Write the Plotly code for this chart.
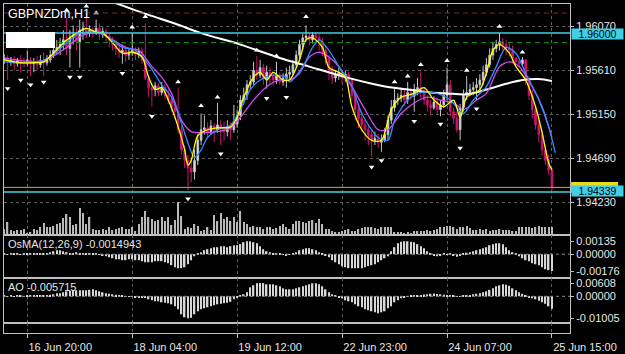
import plotly.graph_objects as go

# ---------------- data ----------------
bar_idx = list(range(168))
time_tick_idx = [7, 39, 71, 103, 135, 167]
time_tick_text = ["16 Jun 20:00", "18 Jun 04:00", "19 Jun 12:00",
                  "22 Jun 23:00", "24 Jun 07:00", "25 Jun 15:00"]
price_ticks = [1.94230, 1.94690, 1.95150, 1.95610, 1.96070]
osma_ticks = [0.00135, 0.0, -0.00176]
ao_ticks = [0.00608, 0.0, -0.01005]

first_open = 1.9572
closes = [1.9574,1.9570,1.9572,1.9568,1.9572,1.9570,
 1.9569,1.9572,1.9568,1.9570,1.9567,1.9571,1.9569,
 1.9572,1.9577,1.9582,1.9585,
 1.9588,1.9593,1.9584,1.9595,
 1.9598,1.9591,1.9603,1.9605,1.9600,
 1.9603,1.9601,1.9605,1.9599,1.9602,
 1.9597,1.9593,1.9588,1.9584,1.9580,1.9582,
 1.9577,1.9580,1.9582,1.9578,1.9581,
 1.9572,1.9553,1.9543,1.9541,
 1.9545,1.9538,1.9543,1.9535,1.9530,
 1.9522,1.9518,1.9499,1.9478,
 1.9467,1.9459,1.9455,1.9467,
 1.9488,1.9499,1.9501,1.9497,
 1.9503,1.9499,1.9504,1.9501,1.9497,1.9501,1.9499,1.9505,
 1.9514,1.9530,1.9535,1.9546,1.9549,
 1.9561,1.9556,1.9564,1.9553,1.9559,
 1.9555,1.9551,1.9556,1.9549,1.9553,1.9557,
 1.9559,1.9567,1.9577,1.9588,
 1.9595,1.9597,1.9593,1.9598,1.9595,1.9591,
 1.9582,1.9574,1.9561,1.9553,
 1.9556,1.9559,1.9553,1.9557,1.9551,
 1.9535,1.9520,1.9511,1.9504,1.9499,
 1.9494,1.9488,1.9490,1.9486,1.9488,1.9494,
 1.9509,1.9522,1.9530,1.9532,
 1.9535,1.9530,1.9538,1.9534,1.9541,1.9543,
 1.9538,1.9530,1.9525,1.9522,1.9528,1.9520,
 1.9525,1.9535,1.9546,
 1.9518,1.9511,1.9499,1.9522,1.9535,
 1.9538,1.9541,1.9543,1.9546,
 1.9551,1.9559,1.9567,1.9577,1.9584,1.9588,
 1.9591,1.9588,1.9584,1.9582,
 1.9574,1.9570,1.9568,1.9572,
 1.9551,1.9535,1.9520,1.9504,
 1.9494,1.9478,1.9467,1.9457,1.9439]

highs = [1.9578,1.9577,1.9575,1.9576,1.9574,1.9577,1.9574,1.9582,1.9575,1.9574,
 1.9576,1.9577,1.9580,1.9577,1.9582,1.9588,1.9593,1.9595,1.9603,1.9616,
 1.9603,1.9608,1.9605,1.9614,1.9612,1.9620,1.9608,1.9607,1.9614,1.9610,
 1.9606,1.9605,1.9600,1.9596,1.9593,1.9589,1.9588,1.9587,1.9584,1.9600,
 1.9585,1.9585,1.9585,1.9610,1.9556,1.9547,1.9549,1.9548,1.9549,1.9547,
 1.9541,1.9534,1.9528,1.9543,1.9503,1.9483,1.9473,1.9467,1.9478,1.9494,
 1.9516,1.9514,1.9507,1.9509,1.9506,1.9527,1.9509,1.9507,1.9509,1.9507,
 1.9525,1.9520,1.9535,1.9543,1.9551,1.9556,1.9570,1.9576,1.9572,1.9568,
 1.9566,1.9564,1.9560,1.9570,1.9559,1.9558,1.9564,1.9566,1.9572,1.9582,
 1.9593,1.9599,1.9608,1.9601,1.9601,1.9601,1.9599,1.9595,1.9587,1.9577,
 1.9566,1.9561,1.9564,1.9561,1.9561,1.9559,1.9553,1.9538,1.9525,1.9518,
 1.9509,1.9504,1.9499,1.9497,1.9495,1.9494,1.9501,1.9514,1.9530,1.9543,
 1.9537,1.9543,1.9541,1.9549,1.9543,1.9547,1.9553,1.9560,1.9543,1.9535,
 1.9530,1.9534,1.9532,1.9530,1.9541,1.9564,1.9551,1.9522,1.9518,1.9526,
 1.9541,1.9555,1.9547,1.9549,1.9553,1.9557,1.9566,1.9574,1.9584,1.9591,
 1.9593,1.9600,1.9595,1.9593,1.9591,1.9587,1.9574,1.9572,1.9575,1.9573,
 1.9555,1.9541,1.9524,1.9509,1.9499,1.9482,1.9473,1.9459]

lows = [1.9568,1.9551,1.9566,1.9561,1.9565,1.9559,1.9564,1.9566,1.9555,1.9559,
 1.9561,1.9564,1.9555,1.9566,1.9569,1.9574,1.9578,1.9577,1.9582,1.9577,
 1.9564,1.9588,1.9582,1.9564,1.9593,1.9595,1.9596,1.9595,1.9598,1.9593,
 1.9595,1.9591,1.9585,1.9582,1.9577,1.9574,1.9568,1.9570,1.9572,1.9576,
 1.9572,1.9574,1.9568,1.9551,1.9533,1.9523,1.9534,1.9534,1.9535,1.9531,
 1.9526,1.9518,1.9511,1.9495,1.9473,1.9459,1.9436,1.9444,1.9447,1.9462,
 1.9483,1.9494,1.9490,1.9494,1.9486,1.9496,1.9483,1.9488,1.9492,1.9488,
 1.9496,1.9501,1.9509,1.9525,1.9530,1.9541,1.9546,1.9551,1.9553,1.9546,
 1.9542,1.9547,1.9545,1.9547,1.9546,1.9545,1.9543,1.9551,1.9556,1.9564,
 1.9572,1.9582,1.9591,1.9587,1.9589,1.9588,1.9582,1.9576,1.9567,1.9551,
 1.9547,1.9549,1.9551,1.9547,1.9549,1.9543,1.9530,1.9509,1.9501,1.9497,
 1.9488,1.9483,1.9471,1.9483,1.9480,1.9476,1.9486,1.9488,1.9505,1.9518,
 1.9525,1.9528,1.9524,1.9526,1.9530,1.9518,1.9535,1.9532,1.9525,1.9518,
 1.9515,1.9520,1.9515,1.9513,1.9522,1.9530,1.9513,1.9505,1.9496,1.9488,
 1.9518,1.9530,1.9534,1.9535,1.9530,1.9541,1.9546,1.9555,1.9564,1.9572,
 1.9580,1.9582,1.9582,1.9577,1.9576,1.9570,1.9566,1.9564,1.9566,1.9546,
 1.9530,1.9511,1.9499,1.9486,1.9472,1.9462,1.9452,1.9436]

opens = [first_open] + closes[:-1]

volumes = [600,
 1300,500,400,500,500,600,200,300,600,500,
 800,1200,800,800,900,1100,1200,1700,2100,1800,
 1000,1100,2700,2200,1100,1800,600,500,500,600,
 500,800,500,600,700,800,600,600,800,400,
 1100,1800,2400,1800,1600,1400,1500,1800,1400,1800,
 1000,1500,3300,1900,600,800,700,1100,900,400,
 500,800,500,2000,1400,2200,1600,1800,1400,1800,
 1300,2400,1300,1100,800,900,800,800,600,800,
 800,600,700,900,1100,800,600,1100,1400,1400,
 1300,1200,1400,1500,1200,1600,1100,600,600,400,
 300,300,400,500,600,400,400,600,700,800,
 800,800,700,600,800,800,800,800,300,300,
 300,200,300,200,400,400,400,400,500,400,
 500,600,800,800,900,900,800,600,800,800,
 900,700,500,500,600,500,600,400,500,500,
 600,500,500,500,400,400,800,800,800,800,
 700,800,900,800,800,800,800]

osma = [0.00003,-0.00002,0.00003,0.00005,0.00003,-0.00003,0.00003,0.00005,0.00003,0.00003,0.00005,0.00008,0.00008,
 0.00010,0.00021,0.00031,0.00042,0.00042,
 0.00031,0.00021,
 0.00010,0.00010,0.00021,0.00010,0.00010,0.00010,0.00010,0.00010,0.00005,
 -0.00005,-0.00010,-0.00021,-0.00031,-0.00042,-0.00052,-0.00052,-0.00063,-0.00063,-0.00052,
 -0.00052,-0.00063,-0.00063,-0.00073,-0.00084,-0.00084,-0.00084,-0.00073,-0.00073,-0.00073,
 -0.00084,-0.00094,-0.00115,-0.00136,-0.00146,-0.00146,-0.00136,-0.00105,-0.00063,-0.00021,
 0.00010,0.00021,0.00042,0.00052,0.00063,0.00073,0.00073,
 0.00084,0.00084,0.00073,0.00084,0.00094,0.00094,
 0.00105,0.00125,0.00135,0.00135,0.00125,0.00115,0.00084,
 0.00052,0.00031,0.00021,0.00010,0.00010,
 0.00005,-0.00005,-0.00010,-0.00005,0.00005,
 0.00021,0.00042,0.00052,0.00063,0.00063,0.00052,0.00042,0.00021,
 0.00005,-0.00010,
 -0.00031,-0.00063,-0.00084,-0.00105,-0.00125,-0.00136,-0.00146,-0.00146,-0.00146,-0.00146,
 -0.00146,-0.00136,-0.00125,-0.00115,-0.00105,-0.00084,-0.00063,-0.00042,-0.00021,
 0.00031,0.00073,0.00115,0.00130,0.00135,0.00135,0.00130,0.00125,0.00105,0.00084,0.00063,0.00031,
 0.00010,-0.00010,-0.00021,-0.00010,0.00005,-0.00005,0.00005,-0.00016,-0.00026,-0.00010,0.00010,0.00016,
 0.00021,0.00031,0.00042,0.00052,0.00063,0.00073,0.00094,0.00105,0.00115,0.00115,0.00105,0.00073,0.00042,0.00021,0.00005,
 -0.00021,-0.00042,-0.00063,-0.00073,-0.00094,-0.00105,-0.00115,-0.00136,-0.00157,-0.00167,-0.00176]

ao = [0.00023,0.00014,0.00023,0.00014,0.00023,0.00023,0.00014,0.00023,0.00023,0.00023,0.00037,0.00037,0.00046,0.00046,
 0.00069,0.00092,0.00138,0.00138,0.00184,0.0023,0.00253,0.00276,0.00276,0.00276,0.00276,0.00276,
 0.00299,0.00322,0.00276,0.0023,0.00184,0.00138,0.00115,0.00092,0.00069,0.00046,0.00023,0.00014,
 -0.00023,-0.00023,-0.00037,-0.00046,-0.00046,
 -0.00069,-0.00138,-0.00184,-0.0023,-0.0023,-0.00276,-0.00299,-0.00322,-0.00368,-0.0046,
 -0.00598,-0.00828,-0.00966,-0.01005,-0.00990,-0.00828,-0.0069,-0.00598,-0.00552,-0.00506,
 -0.0046,-0.00414,-0.00368,-0.00345,-0.00322,-0.00299,-0.00253,-0.00138,-0.00046,
 0.00046,0.00092,0.00184,0.00414,0.00506,0.00598,0.00608,0.00608,0.00552,0.00552,
 0.00552,0.00506,0.0046,0.00368,0.00322,0.00322,0.00322,0.00368,0.00414,0.0046,
 0.00506,0.00552,0.00598,0.00598,0.00552,0.0046,0.00322,0.00184,0.00092,0.00046,
 -0.00046,-0.00092,-0.00184,-0.0023,-0.00276,-0.00368,-0.0046,-0.00506,-0.00598,-0.00644,
 -0.0069,-0.00736,-0.00782,-0.00736,-0.0069,-0.00552,-0.0046,-0.00276,-0.00184,-0.00092,
 -0.00046,-0.00023,
 0.00023,0.00032,0.00046,0.0006,0.00078,0.00092,0.00115,0.00124,0.00106,0.00092,
 0.00069,0.0006,0.00046,0.00032,0.00014,0.00009,0.00023,0.00032,0.0006,0.00092,
 0.00115,0.00138,0.00184,0.0023,0.00299,0.00368,0.0046,0.00506,0.00552,0.00529,
 0.00483,0.00368,0.00276,0.00184,0.00115,0.00023,
 -0.00046,-0.00092,-0.00138,-0.00207,-0.00276,-0.00345,-0.0046,-0.005715]

yellow_idx = [0,5,9,12,15,18,22,25,28,30,33,36,39,42,44,46,48,50,53,55,56,57,59,62,65,69,71,73,76,78,
 80,82,85,87,90,92,94,97,99,102,104,106,109,112,115,118,121,125,128,131,134,137,139,141,145,147,149,151,154,156,
 159,162,164,166,167]
yellow_px = [1.9572,1.9569,1.9569,1.9570,1.9579,1.9590,1.9600,1.9605,1.9601,1.9600,
 1.9590,1.9579,1.9580,1.9575,1.9554,1.9541,1.9543,1.9530,1.9502,1.9478,
 1.9462,1.9467,1.9493,1.9499,1.9501,1.9502,1.9512,1.9533,1.9554,1.9559,
 1.9551,1.9559,1.9551,1.9551,1.9572,1.9593,1.9595,1.9585,1.9564,1.9559,
 1.9554,1.9523,1.9499,1.9488,1.9488,1.9520,1.9533,1.9537,1.9543,1.9530,
 1.9523,1.9530,1.9512,1.9533,1.9541,1.9558,1.9582,1.9588,1.9579,1.9565,
 1.9551,1.9523,1.9496,1.9464,1.9457]

blue_idx = [0,9,14,19,23,28,32,36,40,44,48,51,54,56,58,60,62,65,69,72,75,78,82,86,87,91,94,96,99,102,
 106,109,114,117,119,123,127,132,136,140,143,147,150,153,156,159,163,166,168]
blue_px = [1.9570,1.9569,1.9575,1.9590,1.9600,1.9601,1.9595,1.9585,1.9582,1.9567,
 1.9546,1.9533,1.9506,1.9485,1.9470,1.9478,1.9491,1.9499,1.9504,1.9520,
 1.9541,1.9551,1.9556,1.9554,1.9549,1.9565,1.9585,1.9593,1.9582,1.9565,
 1.9544,1.9516,1.9491,1.9488,1.9509,1.9530,1.9538,1.9537,1.9530,1.9516,
 1.9530,1.9544,1.9565,1.9585,1.9579,1.9558,1.9530,1.9502,1.9475]

magenta_idx = [0,9,14,19,24,29,33,37,41,45,48,51,54,57,61,65,69,72,76,80,84,87,90,93,96,99,102,106,110,114,
 117,121,125,129,133,137,140,144,147,151,154,157,161,164,167]
magenta_px = [1.9574,1.9570,1.9574,1.9585,1.9598,1.9600,1.9593,1.9585,1.9582,1.9565,
 1.9554,1.9537,1.9509,1.9497,1.9496,1.9497,1.9501,1.9512,1.9530,1.9544,
 1.9551,1.9551,1.9558,1.9575,1.9580,1.9575,1.9565,1.9544,1.9520,1.9499,
 1.9499,1.9516,1.9527,1.9533,1.9530,1.9527,1.9520,1.9530,1.9537,1.9565,
 1.9570,1.9565,1.9544,1.9523,1.9491]

white_idx = [29,35,44,52,60,72,84,93,104,115,123,130,135,141,147,153,158,163,167]
white_px = [1.9638,1.9630,1.9619,1.9610,1.9600,1.9588,1.9574,1.9565,1.9554,1.9545,
 1.9541,1.9538,1.9537,1.9536,1.9541,1.9547,1.9551,1.9552,1.9550]

frac_up_idx = [19,25,28,39,43,53,60,65,77,83,92,119,123,127,135,141,151,158]
frac_up_px = [1.9624,1.9628,1.9621,1.9606,1.9617,1.9549,1.9524,1.9533,1.9582,1.9576,
 1.9617,1.9549,1.9555,1.9567,1.9571,1.9561,1.9607,1.9580]
frac_dn_idx = [1,5,8,12,20,23,36,45,56,66,80,86,112,115,125,133,139,144]
frac_dn_px = [1.9542,1.9551,1.9546,1.9549,1.9554,1.9554,1.9558,1.9513,1.9427,1.9474,
 1.9532,1.9533,1.9460,1.9467,1.9508,1.9505,1.9480,1.9521]

level_red = 1.9621
level_cyan_top = 1.96000
level_green = 1.9590
level_bid = 1.94388
level_cyan_bottom = 1.94339

title_text = "GBPNZDm,H1"
osma_text = "OsMA(12,26,9) -0.0014943"
ao_text = "AO -0.005715"

# ---------------- figure ----------------
FONT = "Liberation Sans, Arial, sans-serif"
TXT = "#e6e6e6"
GRID = "#5f5f5f"
FRAME = "#c0c0c0"
CYAN = "#3fcfe6"
X_RANGE = [-0.1, 172.5]

D_MAIN = [0.29787, 1.0]
D_OSMA = [0.16717, 0.29787]
D_AO = [0.030395, 0.16717]
D_LAST = [0.0, 0.030395]

fig = go.Figure()

fig.add_trace(go.Bar(x=bar_idx, y=volumes, width=0.4, xaxis="x", yaxis="y2",
                     marker=dict(color="#b8b8b8", line=dict(width=0)), hoverinfo="skip"))
fig.add_trace(go.Scatter(x=white_idx, y=white_px, mode="lines", xaxis="x", yaxis="y",
                         line=dict(color="#ffffff", width=2, shape="spline", smoothing=0.8),
                         hoverinfo="skip"))
fig.add_trace(go.Candlestick(x=bar_idx, open=opens, high=highs, low=lows, close=closes,
                             xaxis="x", yaxis="y",
                             increasing=dict(line=dict(color="#c4c4c4", width=1), fillcolor="#e4e4e4"),
                             decreasing=dict(line=dict(color="#cc1470", width=1), fillcolor="#cc1470"),
                             hoverinfo="skip"))
for xi, yv, col in [(magenta_idx, magenta_px, "#d04cf2"),
                    (blue_idx, blue_px, "#2f8fff"),
                    (yellow_idx, yellow_px, "#ffff00")]:
    fig.add_trace(go.Scatter(x=xi, y=yv, mode="lines", xaxis="x", yaxis="y",
                             line=dict(color=col, width=1.3, shape="spline", smoothing=0.8),
                             hoverinfo="skip"))
fig.add_trace(go.Scatter(x=frac_up_idx, y=frac_up_px, mode="markers", xaxis="x", yaxis="y",
                         marker=dict(symbol="triangle-up", size=5, color="#ffffff"),
                         hoverinfo="skip"))
fig.add_trace(go.Scatter(x=frac_dn_idx, y=frac_dn_px, mode="markers", xaxis="x", yaxis="y",
                         marker=dict(symbol="triangle-down", size=5, color="#ffffff"),
                         hoverinfo="skip"))
fig.add_trace(go.Bar(x=bar_idx, y=osma, width=0.45, xaxis="x2", yaxis="y3",
                     marker=dict(color="#d6d6d6", line=dict(width=0)), hoverinfo="skip"))
fig.add_trace(go.Bar(x=bar_idx, y=ao, width=0.45, xaxis="x3", yaxis="y4",
                     marker=dict(color="#d6d6d6", line=dict(width=0)), hoverinfo="skip"))
# empty bottom window (keeps its axes drawn)
fig.add_trace(go.Scatter(x=[], y=[], xaxis="x4", yaxis="y5", hoverinfo="skip"))

# horizontal levels
def hline(yref, xref, y, color, width, dash):
    fig.add_shape(type="line", xref=xref, x0=0, x1=1, yref=yref, y0=y, y1=y,
                  line=dict(color=color, width=width, dash=dash))

hline("y", "x domain", level_red, "#8a2020", 1, "5px,4px")
hline("y", "x domain", level_green, "#1c9a1c", 1, "5px,4px")
hline("y", "x domain", level_cyan_top, CYAN, 1.5, "solid")
hline("y", "x domain", level_bid, "#c9b02c", 1, "solid")
hline("y", "x domain", level_cyan_bottom, CYAN, 1.5, "solid")
hline("y3", "x2 domain", 0, "#8a8a8a", 1, "3px,3px")
hline("y4", "x3 domain", 0, "#8a8a8a", 1, "3px,3px")

# white label object at top-left
fig.add_shape(type="rect", xref="paper", yref="paper",
              x0=0.0035, x1=0.0901, y0=0.8663, y1=0.9149,
              fillcolor="#ffffff", line=dict(width=0))

# yellow bid label (mostly hidden behind the cyan line label)
box_half = 0.00055
fig.add_shape(type="rect", xref="paper", yref="y", x0=1.002, x1=1.085,
              y0=level_bid - box_half, y1=level_bid + box_half,
              fillcolor="#e8d820", line=dict(width=0))

xcommon = dict(domain=[0, 1], range=X_RANGE, autorange=False, tickvals=time_tick_idx,
               ticktext=time_tick_text, showgrid=True, gridcolor=GRID, griddash="3px,3px",
               gridwidth=1, zeroline=False, showline=True, linecolor=FRAME, linewidth=1,
               mirror=True, rangeslider=dict(visible=False), fixedrange=True)
ycommon = dict(side="right", showline=True, linecolor=FRAME, linewidth=1, mirror=True,
               zeroline=False, ticks="outside", ticklen=3, tickcolor=FRAME,
               tickfont=dict(family=FONT, size=11, color=TXT), fixedrange=True)

fig.update_layout(
    xaxis=dict(anchor="y", showticklabels=False, ticks="", **xcommon),
    xaxis2=dict(anchor="y3", showticklabels=False, ticks="", **xcommon),
    xaxis3=dict(anchor="y4", showticklabels=False, ticks="", **xcommon),
    xaxis4=dict(anchor="y5", showticklabels=True, ticks="outside", ticklen=4,
                tickcolor=FRAME, ticklabelshift=33,
                tickfont=dict(family=FONT, size=11, color=TXT), **xcommon),
    yaxis=dict(domain=D_MAIN, anchor="x", range=[1.938904, 1.963040], tickvals=price_ticks,
               ticktext=[f"{v:.5f}" for v in price_ticks], showgrid=True, gridcolor=GRID,
               griddash="3px,3px", **ycommon),
    yaxis2=dict(domain=D_MAIN, anchor="x", overlaying="y", range=[0, 23100], visible=False,
                showgrid=False, fixedrange=True),
    yaxis3=dict(domain=D_OSMA, anchor="x2", range=[-0.002487, 0.002006], tickvals=osma_ticks,
                ticktext=[f"{v:.5f}" for v in osma_ticks], showgrid=False, **ycommon),
    yaxis4=dict(domain=D_AO, anchor="x3", range=[-0.01228, 0.00842], tickvals=ao_ticks,
                ticktext=[f"{v:.5f}" for v in ao_ticks], showgrid=False, **ycommon),
    yaxis5=dict(domain=D_LAST, anchor="x4", range=[0, 1], showticklabels=False, ticks="",
                showgrid=False, showline=True, linecolor=FRAME, mirror=True, zeroline=False,
                fixedrange=True),
)

# texts
fig.add_annotation(text=title_text, xref="paper", yref="paper", x=0, y=1,
                   xanchor="left", yanchor="top", xshift=2, yshift=-1, showarrow=False,
                   font=dict(family=FONT, size=12.5, color="#ffffff"))
fig.add_annotation(text=osma_text, xref="paper", yref="y3 domain", x=0, y=1,
                   xanchor="left", yanchor="top", xshift=2, yshift=-1, showarrow=False,
                   font=dict(family=FONT, size=11, color=TXT))
fig.add_annotation(text=ao_text, xref="paper", yref="y4 domain", x=0, y=1,
                   xanchor="left", yanchor="top", xshift=2, yshift=-1, showarrow=False,
                   font=dict(family=FONT, size=11, color=TXT))

def price_box(y, txt, bg, yshift):
    fig.add_annotation(text=txt, xref="paper", yref="y", x=1, y=y, xanchor="left",
                       yanchor="middle", xshift=1, yshift=yshift, showarrow=False, bgcolor=bg,
                       width=50, height=9, borderpad=0.5,
                       font=dict(family=FONT, size=10.5, color="#000000"))

price_box(level_cyan_top, f"{level_cyan_top:.5f}", CYAN, -1)
price_box(level_cyan_bottom, f"{level_cyan_bottom:.5f}", CYAN, 1)

fig.update_layout(width=625, height=354, margin=dict(l=4, r=55, t=4, b=21, autoexpand=False),
                  paper_bgcolor="#000000", plot_bgcolor="#000000",
                  showlegend=False, hovermode=False, barmode="overlay",
                  font=dict(family=FONT, color=TXT))

fig.write_html("out.html")
